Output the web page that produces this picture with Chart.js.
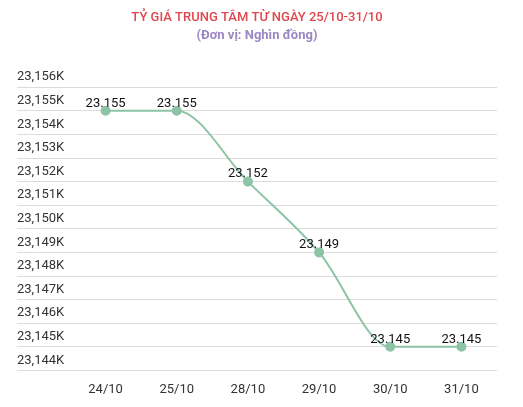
<!DOCTYPE html><html><head><meta charset="utf-8"><script src="https://cdn.jsdelivr.net/npm/chart.js@4"></script>
<style>body{margin:0}#w{width:523px;height:407px}</style></head><body><div id="w"><canvas id="c"></canvas></div>
<script>
const categories=["24/10","25/10","28/10","29/10","30/10","31/10"];
const values=[23155,23155,23152,23149,23145,23145];
const valueLabels=["23.155","23.155","23.152","23.149","23.145","23.145"];
const labelPlugin={id:'vl',afterDatasetsDraw(ch){const ctx=ch.ctx;const m=ch.getDatasetMeta(0);ctx.save();ctx.font='13px Roboto';ctx.fillStyle='#111';ctx.textAlign='center';ctx.textBaseline='bottom';m.data.forEach((p,i)=>ctx.fillText(valueLabels[i],p.x,p.y-1));ctx.restore();}};
new Chart(document.getElementById('c'),{type:'line',data:{labels:categories,datasets:[{data:values,borderColor:'#8cc4a5',backgroundColor:'#8cc4a5',borderWidth:2,pointRadius:4,pointHoverRadius:4,cubicInterpolationMode:'monotone'}]},
options:{animation:false,responsive:true,maintainAspectRatio:false,layout:{padding:{left:17,right:26,top:0,bottom:5}},
plugins:{legend:{display:false},tooltip:{enabled:false},
title:{display:true,text:'TỶ GIÁ TRUNG TÂM TỪ NGÀY 25/10-31/10',color:'#e0474c',font:{family:'Roboto',size:13,weight:'500'},padding:{top:10,bottom:2}},
subtitle:{display:true,text:'(Đơn vị: Nghìn đồng)',color:'#9b87c4',font:{family:'Roboto',size:13,weight:'bold'},padding:{bottom:44}}},
scales:{x:{offset:true,grid:{display:false},border:{display:false},ticks:{color:'#333',font:{family:'Roboto',size:13},padding:4}},
y:{min:23144,max:23156,afterFit(s){s.width=53;},border:{display:false},grid:{color:'#dcdcdc',tickLength:53},
ticks:{stepSize:1,crossAlign:'far',labelOffset:-10,color:'#333',font:{family:'Roboto',size:13},callback:v=>(v/1000).toFixed(3).replace('.',',')+'K'}}}},plugins:[labelPlugin]});
</script></body></html>
